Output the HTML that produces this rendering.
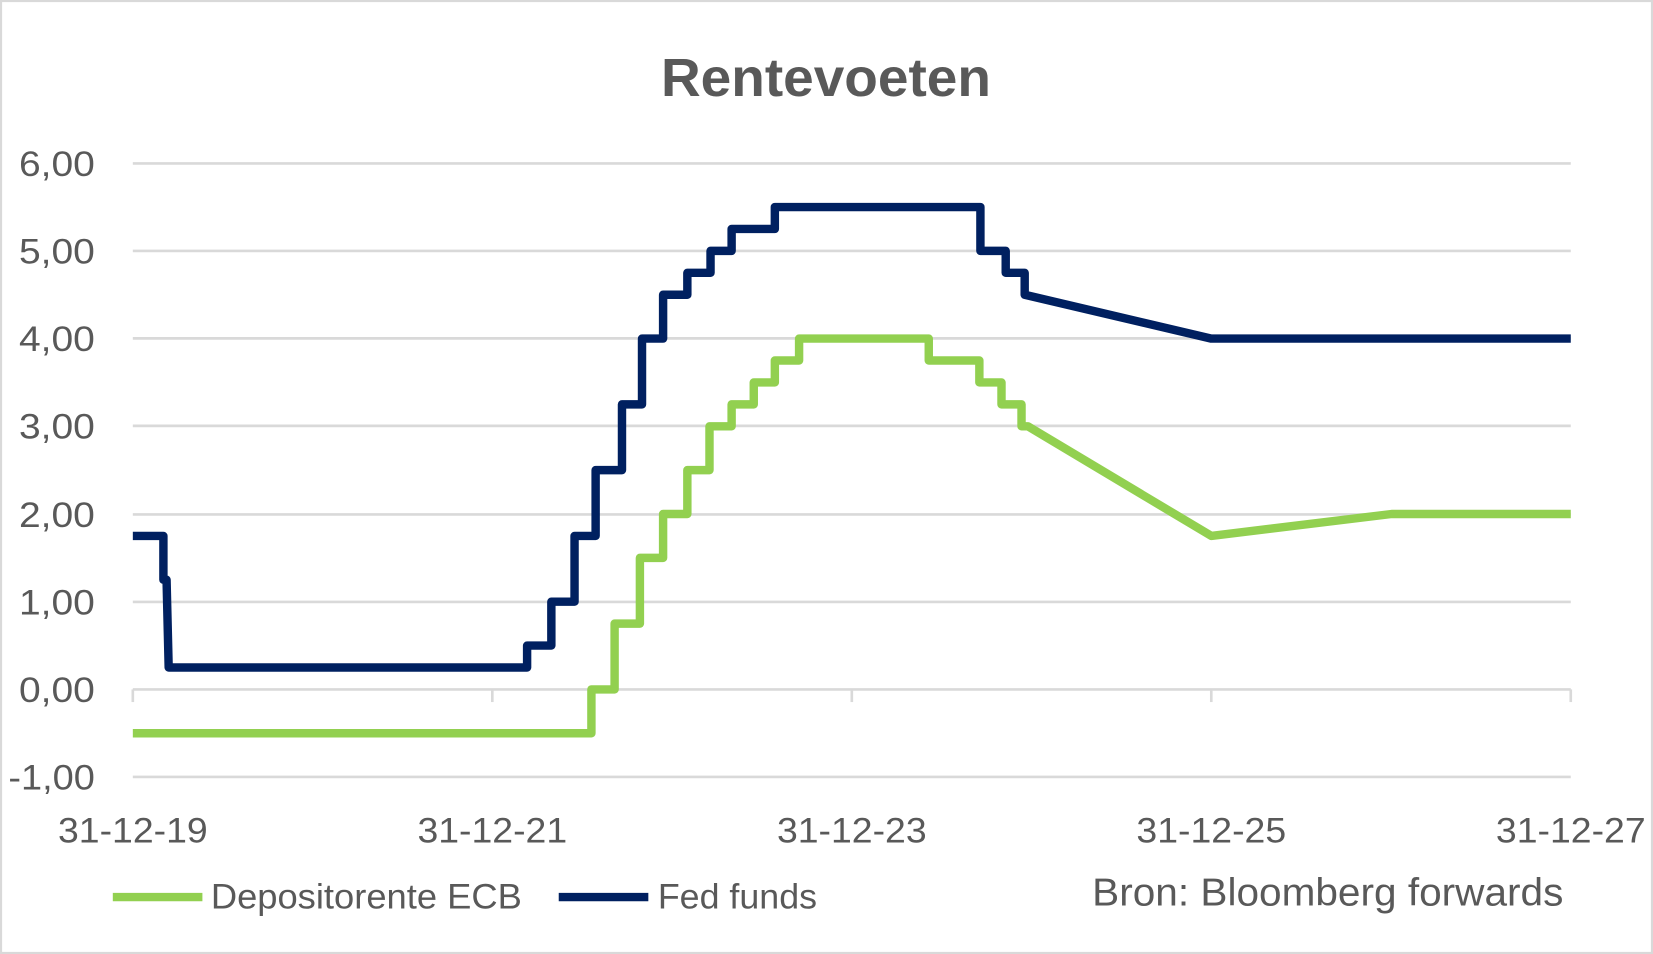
<!DOCTYPE html>
<html><head><meta charset="utf-8"><style>html,body{margin:0;padding:0;background:#fff}svg{display:block}</style></head><body>
<svg width="1653" height="954" viewBox="0 0 1568 905" preserveAspectRatio="none" xmlns="http://www.w3.org/2000/svg" font-family="'Liberation Sans', sans-serif" fill="#595959">
<rect x="1" y="1" width="1566" height="903" fill="#fff" stroke="#d9d9d9" stroke-width="2"/>
<text x="627" y="91" font-size="51" font-weight="bold" textLength="313" lengthAdjust="spacingAndGlyphs">Rentevoeten</text>
<g stroke="#d9d9d9" stroke-width="2.5">
<line x1="126" y1="155" x2="1490" y2="155"/><line x1="126" y1="238" x2="1490" y2="238"/>
<line x1="126" y1="321" x2="1490" y2="321"/><line x1="126" y1="404" x2="1490" y2="404"/>
<line x1="126" y1="488" x2="1490" y2="488"/><line x1="126" y1="571" x2="1490" y2="571"/>
<line x1="126" y1="654" x2="1490" y2="654"/><line x1="126" y1="737" x2="1490" y2="737"/>
<line x1="126" y1="654" x2="126" y2="666"/><line x1="467" y1="654" x2="467" y2="666"/>
<line x1="808" y1="654" x2="808" y2="666"/><line x1="1149" y1="654" x2="1149" y2="666"/>
<line x1="1490" y1="654" x2="1490" y2="666"/>
</g>
<g font-size="33" lengthAdjust="spacingAndGlyphs">
<text x="18" y="167" textLength="72" lengthAdjust="spacingAndGlyphs">6,00</text>
<text x="18" y="250" textLength="72" lengthAdjust="spacingAndGlyphs">5,00</text>
<text x="18" y="333" textLength="72" lengthAdjust="spacingAndGlyphs">4,00</text>
<text x="18" y="416" textLength="72" lengthAdjust="spacingAndGlyphs">3,00</text>
<text x="18" y="500" textLength="72" lengthAdjust="spacingAndGlyphs">2,00</text>
<text x="18" y="583" textLength="72" lengthAdjust="spacingAndGlyphs">1,00</text>
<text x="18" y="666" textLength="72" lengthAdjust="spacingAndGlyphs">0,00</text>
<text x="8" y="749" textLength="82" lengthAdjust="spacingAndGlyphs">-1,00</text>
</g>
<g font-size="33">
<text x="55" y="799" textLength="142" lengthAdjust="spacingAndGlyphs">31-12-19</text>
<text x="396" y="799" textLength="142" lengthAdjust="spacingAndGlyphs">31-12-21</text>
<text x="737" y="799" textLength="142" lengthAdjust="spacingAndGlyphs">31-12-23</text>
<text x="1078" y="799" textLength="142" lengthAdjust="spacingAndGlyphs">31-12-25</text>
<text x="1419" y="799" textLength="142" lengthAdjust="spacingAndGlyphs">31-12-27</text>
</g>
<polyline fill="none" stroke="#92d050" stroke-width="8" stroke-linejoin="round" points="126,695.6 561,695.6 561,654 583,654 583,591.6 607,591.6 607,529.2 629,529.2 629,487.6 652,487.6 652,446 673,446 673,404.4 694,404.4 694,383.6 715,383.6 715,362.8 735,362.8 735,342 758,342 758,321.2 881,321.2 881,342 929,342 929,362.8 950,362.8 950,383.6 969,383.6 969,404.4 975,404.4 1149,508.4 1320,487.6 1490,487.6"/>
<polyline fill="none" stroke="#002060" stroke-width="8" stroke-linejoin="round" points="126,508.4 155,508.4 155,550 158,550 160,633.2 500,633.2 500,612.4 523,612.4 523,570.8 545,570.8 545,508.4 565,508.4 565,446 590,446 590,383.6 609,383.6 609,321.2 629,321.2 629,279.6 652,279.6 652,258.8 674,258.8 674,238 694,238 694,217.2 735,217.2 735,196.4 930,196.4 930,238 954,238 954,258.8 972,258.8 972,279.6 1149,321.2 1490,321.2"/>
<line x1="107" y1="851" x2="192" y2="851" stroke="#92d050" stroke-width="8"/>
<text x="200" y="862" font-size="33" textLength="295" lengthAdjust="spacingAndGlyphs">Depositorente ECB</text>
<line x1="530" y1="851" x2="615" y2="851" stroke="#002060" stroke-width="8"/>
<text x="624" y="862" font-size="33" textLength="151" lengthAdjust="spacingAndGlyphs">Fed funds</text>
<text x="1036" y="859" font-size="37" textLength="447" lengthAdjust="spacingAndGlyphs">Bron: Bloomberg forwards</text>
</svg>
</body></html>
